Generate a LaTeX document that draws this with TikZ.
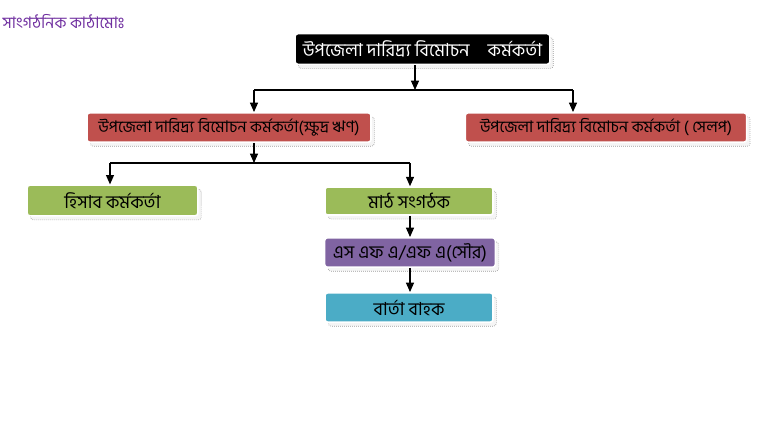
\documentclass[tikz,border=0pt]{standalone}
\usepackage{fontspec}
\usepackage{xcolor}
\usetikzlibrary{arrows.meta,shadows,positioning,calc}
\newfontfamily\bnfont[Script=Bengali]{Hind Siliguri}
\definecolor{offred}{HTML}{C0504D}
\definecolor{offgreen}{HTML}{9BBB59}
\definecolor{offpurple}{HTML}{8064A2}
\definecolor{offblue}{HTML}{4BACC6}
\definecolor{titlepurple}{HTML}{7030A0}

\begin{document}
\begin{tikzpicture}[x=0.75pt, y=-0.75pt]
	\tikzstyle{every node} = [font=\bnfont\fontsize{12}{14}\selectfont]
	\tikzstyle{big} = [font=\bnfont\fontsize{13.5}{15}\selectfont]
	\tikzstyle{box} = [rectangle, rounded corners=2pt, draw=white, line width=1.2pt, inner sep=0pt,
		general shadow={shadow xshift=2.5pt, shadow yshift=-3pt, fill=gray!8, draw=gray!80, densely dotted, line width=0.5pt}]
	\tikzstyle{arr} = [-{Triangle[width=6pt,length=7pt]}, line width=0.8pt]
	\useasboundingbox (0,0) rectangle (766,425);
\node[draw = none, text = titlepurple, anchor = west, font=\bnfont\fontsize{12}{14}\selectfont] (title) at (-2, 22) {সাংগঠনিক কাঠামোঃ};
\node[box, big, fill = black, text = white, minimum width = 191pt, minimum height = 23pt] (top) at (422.5, 49) {উপজেলা দারিদ্র্য বিমোচন\quad কর্মকর্তা};
\node[box, fill = offred, minimum width = 213pt, minimum height = 22pt] (lred) at (229, 127.5) {উপজেলা দারিদ্র্য বিমোচন কর্মকর্তা(ক্ষুদ্র ঋণ)};
\node[box, fill = offred, minimum width = 211pt, minimum height = 22pt] (rred) at (606, 127.5) {উপজেলা দারিদ্র্য বিমোচন কর্মকর্তা ( সেলপ)};
\node[box, big, fill = offgreen, minimum width = 128pt, minimum height = 23pt] (hisab) at (112.5, 200.5) {হিসাব কর্মকর্তা};
\node[box, big, fill = offgreen, minimum width = 126pt, minimum height = 21pt] (mat) at (409, 201) {মাঠ সংগঠক};
\node[box, big, fill = offpurple, minimum width = 128pt, minimum height = 22pt] (sfa) at (410, 252.5) {এস এফ এ/এফ এ(সৌর)};
\node[box, big, fill = offblue, minimum width = 126pt, minimum height = 22pt] (barta) at (409, 307.5) {বার্তা বাহক};
	\coordinate (j1) at (415, 90);
	\coordinate (j1l) at (254, 90);
	\coordinate (j1r) at (573, 90);
	\coordinate (j2) at (254, 163);
	\coordinate (j2l) at (110, 163);
	\coordinate (j2r) at (410, 163);
	\path[draw, arr] (top.south -| j1) -- (j1);
	 \path[draw, line width=0.8pt] (j1l) -- (j1r);
	  \path[draw, arr] (j1l) -- (lred.north -| j1l);
	  \path[draw, arr] (j1r) -- (rred.north -| j1r);
	\path[draw, arr] (lred.south -| j2) -- (j2);
	 \path[draw, line width=0.8pt] (j2l) -- (j2r);
	  \path[draw, arr] (j2l) -- (hisab.north -| j2l);
	  \path[draw, arr] (j2r) -- (mat.north -| j2r);
	\path[draw, arr] (mat.south -| j2r) -- (sfa.north -| j2r);
	 \path[draw, arr] (sfa.south -| j2r) -- (barta.north -| j2r);
\end{tikzpicture}
\end{document}
